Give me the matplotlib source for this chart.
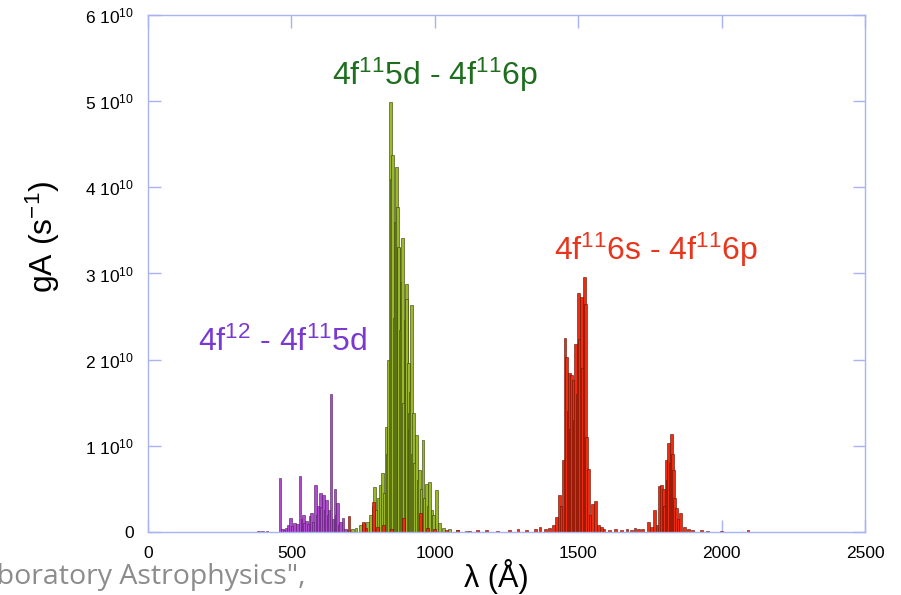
"""gA vs wavelength for three transition arrays (stick spectrum as bars)."""
import matplotlib
matplotlib.use("Agg")
import matplotlib.pyplot as plt

plt.rcParams["font.family"] = ["Liberation Sans", "DejaVu Sans"]
plt.rcParams["mathtext.fontset"] = "custom"
plt.rcParams["mathtext.rm"] = "Liberation Sans"
plt.rcParams["mathtext.default"] = "regular"

# wavelengths in Angstrom, gA in units of 1e10 s^-1
purple_wl = [385, 400, 415, 460, 468, 475, 482, 490, 498, 505, 512, 520, 530, 537,
             541, 547, 553, 560, 565, 571, 577, 585, 590, 595, 600, 606, 611, 617,
             623, 628, 634, 638, 645, 652, 657, 662, 668, 672, 680, 690, 700]
purple_ga = [0.01, 0.01, 0.01, 0.63, 0.03, 0.02, 0.05, 0.08, 0.16, 0.07, 0.11, 0.09,
             0.65, 0.15, 0.20, 0.11, 0.13, 0.09, 0.18, 0.22, 0.12, 0.55, 0.20, 0.30,
             0.45, 0.29, 0.43, 0.25, 0.37, 0.20, 0.26, 1.60, 0.15, 0.50, 0.20, 0.34,
             0.08, 0.12, 0.16, 0.04, 0.02]

green_wl = [700, 712, 725, 740, 752, 765, 775, 785, 791, 798, 805, 812, 818, 824,
            830, 836, 840, 844, 848, 853, 858, 862, 865, 869, 872, 874, 879, 882,
            886, 890, 896, 900, 902, 907, 910, 913, 915, 919, 922, 925, 930, 937,
            942, 948, 954, 959, 965, 971, 977, 983, 990, 996, 1006, 1015, 1030,
            1050, 1080, 1110, 1150]
green_ga = [0.02, 0.04, 0.05, 0.08, 0.10, 0.12, 0.20, 0.30, 0.52, 0.25, 0.40, 0.55,
            0.68, 0.45, 1.22, 0.90, 2.00, 4.99, 4.10, 4.37, 2.48, 3.60, 4.24, 3.77,
            3.30, 3.31, 2.34, 2.90, 3.41, 1.50, 2.46, 2.88, 2.70, 1.96, 1.20, 1.38,
            1.62, 2.63, 0.90, 1.38, 0.80, 1.12, 0.60, 0.72, 0.50, 1.07, 0.40, 0.56,
            0.30, 0.58, 0.25, 0.20, 0.49, 0.10, 0.05, 0.03, 0.02, 0.01, 0.01]

red_wl = [701, 750, 760, 785, 800, 820, 850, 890, 951, 975, 1000, 1040, 1080, 1120,
          1150, 1180, 1220, 1260, 1290, 1320, 1350, 1367, 1385, 1400, 1413, 1423,
          1434, 1441, 1448, 1454, 1460, 1465, 1469, 1473, 1477, 1483, 1488, 1492,
          1497, 1500, 1506, 1511, 1516, 1521, 1526, 1530, 1535, 1541, 1551, 1559,
          1570, 1582, 1590, 1610, 1630, 1650, 1670, 1685, 1698, 1710, 1725, 1745,
          1755, 1765, 1775, 1785, 1791, 1797, 1802, 1806, 1811, 1815, 1820, 1824,
          1828, 1832, 1837, 1843, 1850, 1857, 1870, 1885, 1900, 1930, 1950, 2000,
          2092]
red_ga = [0.19, 0.12, 0.05, 0.35, 0.06, 0.08, 0.04, 0.16, 0.22, 0.05, 0.03, 0.02,
          0.02, 0.01, 0.02, 0.02, 0.01, 0.02, 0.03, 0.02, 0.03, 0.06, 0.03, 0.05,
          0.08, 0.17, 0.43, 0.30, 0.84, 2.25, 2.03, 1.40, 1.85, 1.20, 1.82, 1.76,
          1.30, 2.18, 1.60, 2.77, 2.24, 2.73, 1.90, 2.96, 2.65, 1.10, 0.73, 0.20,
          0.33, 0.36, 0.08, 0.06, 0.04, 0.02, 0.03, 0.02, 0.03, 0.02, 0.05, 0.03,
          0.04, 0.12, 0.06, 0.26, 0.08, 0.53, 0.55, 0.50, 0.30, 0.84, 0.60, 1.03,
          0.80, 1.14, 0.90, 0.72, 0.40, 0.28, 0.15, 0.22, 0.06, 0.03, 0.02, 0.02,
          0.01, 0.01, 0.02]

x_ticks = [0, 500, 1000, 1500, 2000, 2500]
y_ticks = [0, 1, 2, 3, 4, 5, 6]
y_ticklabels = ["0"] + [rf"{v} 10$^{{10}}$" for v in y_ticks[1:]]

AXC = "#a9b2f2"
BW = 10

fig = plt.figure(figsize=(9.01, 5.95), dpi=100)
ax = fig.add_axes([0.1643, 0.1059, 0.7957, 0.8689])

for wl, ga, fc, ec in [(purple_wl, purple_ga, "#b04ad0", "#4a1a5a"),
                       (green_wl, green_ga, "#9ab82a", "#2e3a08"),
                       (red_wl, red_ga, "#ee2c10", "#5a1005")]:
    ax.bar(wl, [g * 1e10 for g in ga], width=BW, color=fc,
           edgecolor=ec, linewidth=0.4, zorder=2)

ax.set_xlim(0, 2500)
ax.set_ylim(0, 6e10)
ax.set_xticks(x_ticks)
ax.set_yticks([v * 1e10 for v in y_ticks])
ax.set_yticklabels(y_ticklabels)
ax.tick_params(direction="in", length=9, width=1, color=AXC,
               top=True, right=True, labelsize=12.5, pad=10)
for sp in ax.spines.values():
    sp.set_color(AXC)
    sp.set_linewidth(1)

ax.set_xlabel("λ (Å)", fontsize=22)
ax.xaxis.set_label_coords(0.486, -0.052)
ax.set_ylabel(r"gA (s$^{-1}$)", fontsize=23)
ax.yaxis.set_label_coords(-0.12, 0.57)

ax.text(0.40, 0.885, r"4f$^{11}$5d - 4f$^{11}$6p", transform=ax.transAxes,
        ha="center", va="center", fontsize=23, color="#1f6e1f")
ax.text(0.709, 0.545, r"4f$^{11}$6s - 4f$^{11}$6p", transform=ax.transAxes,
        ha="center", va="center", fontsize=23, color="#e8361e")
ax.text(0.188, 0.367, r"4f$^{12}$ - 4f$^{11}$5d", transform=ax.transAxes,
        ha="center", va="center", fontsize=23, color="#7a3ad2")

fig.text(305 / 901, 1 - 577 / 595, 'Laboratory Astrophysics",', ha="right",
         va="center", fontsize=20.5, color="#8c8c8c", family=["Open Sans", "DejaVu Sans"])

fig.savefig("out.png", dpi=100)
